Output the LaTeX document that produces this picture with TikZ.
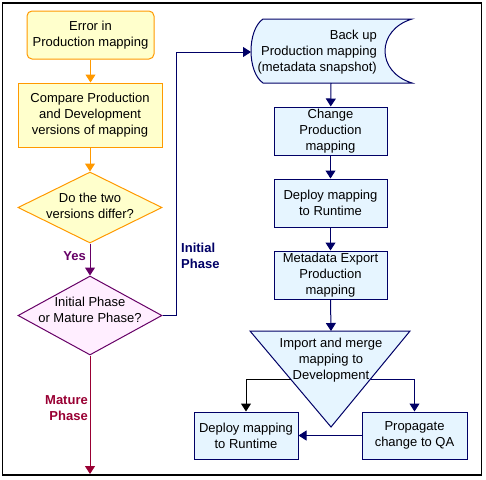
\documentclass[tikz,border=0pt]{standalone}
\usepackage{fontspec}
\setmainfont{Liberation Sans}
\usetikzlibrary{shapes.geometric,arrows.meta}
\definecolor{ylw}{HTML}{FFFFCC}
\definecolor{org}{HTML}{FF9900}
\definecolor{lblue}{HTML}{E6F5FF}
\definecolor{navy}{HTML}{000066}
\definecolor{pinkf}{HTML}{FFEEFF}
\definecolor{purp}{HTML}{660066}
\definecolor{mred}{HTML}{990033}
\begin{document}
\begin{tikzpicture}[x=1pt,y=-1pt, font=\fontsize{13}{16}\selectfont,
 box/.style={draw, rectangle, inner sep=0pt, align=center, line width=1pt},
 ybox/.style={box, draw=org, fill=ylw},
 bbox/.style={box, draw=navy, fill=lblue},
 diam/.style={diamond, draw, line width=1pt, inner sep=0pt, minimum width=144pt},
 txt/.style={align=center, inner sep=0pt},
 arr/.style={-{Triangle[width=10pt,length=8pt]}, line width=1pt},
 lbl/.style={font=\fontsize{13}{16}\selectfont\bfseries, inner sep=0pt}]
\useasboundingbox (0,0) rectangle (486,479);
\draw[line width=1.5pt] (2.5,3) rectangle (481.5,475);

% left column
\node[ybox, rounded corners=5pt, minimum width=127pt, minimum height=48pt] (err) at (90.5,35) {Error in\\Production mapping};
\node[ybox, minimum width=144pt, minimum height=64pt] (cmp) at (90,115) {Compare Production\\and Development\\versions of mapping};
\node[diam, draw=org, fill=ylw, minimum height=71pt] (d1) at (90,207.5) {};
\node[txt] (d1t) at (90,206) {Do the two\\versions differ?};
\node[diam, draw=purp, fill=pinkf, minimum height=79pt] (d2) at (90,315.5) {};
\node[txt] (d2t) at (90,310) {Initial Phase\\or Mature Phase?};
\coordinate (bot) at (90,474);

\draw[arr, org] (err.south) -- (err.south |- cmp.north);
\draw[arr, org] (cmp) -- (d1);
\draw[arr, purp] (d1) -- (d2);
\node[lbl, text=purp, anchor=east] (yes) at (86,256) {Yes};
\draw[arr, mred] (d2.south) -- (bot);
\node[lbl, text=mred, anchor=east, align=right] (mat) at (88,408) {Mature\\Phase};

% backup shape
\path[draw=navy, fill=lblue, line width=1pt] (263,19) -- (412,19)
  .. controls (376,30) and (376,72) .. (412,83) -- (263,83)
  .. controls (247,72) and (247,30) .. (263,19) -- cycle;
\node[txt, align=right, anchor=east] (bk) at (377,52) {Back up\\Production mapping\\(metadata snapshot)};
\coordinate (bkw) at (251,52);
\coordinate (bks) at (331,83);
\coordinate (cI) at (176,52);
\draw[arr, navy] (d2.east) -| (cI) -- (bkw);
\node[lbl, text=navy, anchor=west, align=left] (ini) at (181,256) {Initial\\Phase};

% right column
\node[bbox, minimum width=113pt, minimum height=48pt] (chg) at (330.5,131) {Change\\Production\\mapping};
\node[bbox, minimum width=113pt, minimum height=48pt] (dep1) at (330.5,203) {Deploy mapping\\to Runtime};
\node[bbox, minimum width=113pt, minimum height=48pt] (meta) at (330.5,275) {Metadata Export\\Production\\mapping};
\path[draw=navy, fill=lblue, line width=1pt] (250,331) -- (410,331) -- (331,427) -- cycle;
\coordinate (trit) at (331,331);
\coordinate (tl) at (290.5,379);
\coordinate (tr) at (370.5,379);
\node[bbox, minimum width=104pt, minimum height=47pt] (dep2) at (246,435.5) {Deploy mapping\\to Runtime};
\node[bbox, minimum width=105pt, minimum height=47pt] (prop) at (414.5,435.5) {Propagate\\change to QA};

\draw[arr, navy] (bks) -- (chg);
\draw[arr, navy] (chg) -- (dep1);
\draw[arr, navy] (dep1) -- (meta);
\draw[arr, navy] (meta.south) -- (trit);
\draw[arr, black] (tl) -| (dep2);
\draw[arr, navy] (tr) -| (prop);
\draw[arr, navy] (prop) -- (dep2);
\node[txt] (imp) at (331,360) {Import and merge\\mapping to\\Development};
\end{tikzpicture}
\end{document}
